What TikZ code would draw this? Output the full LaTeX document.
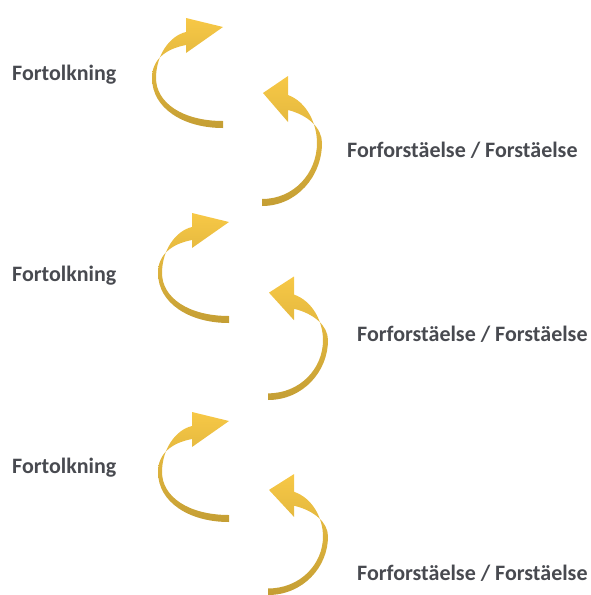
\documentclass[tikz,border=0pt]{standalone}
\usepackage{fontspec}
\setmainfont{Carlito}
\usetikzlibrary{positioning}

\definecolor{curlTop}{RGB}{247,200,70}
\definecolor{curlBot}{RGB}{196,158,52}
\definecolor{tagText}{RGB}{72,74,80}

\begin{document}
\begin{tikzpicture}[x=1pt, y=-1pt, line join=round,
  curl/.style={top color=curlTop, bottom color=curlBot, draw=none},
  tag/.style={anchor=base west, inner sep=0pt, font=\fontsize{22}{24}\selectfont\bfseries, text=tagText}]
  % Page frame (pixels of the reference, y downwards).
  \useasboundingbox (0,0) rectangle (590,595);

  % Ribbon that turns left: tail at the origin, arrowhead above it.
  \def\CurlLeftPath{%
    (0,0) .. controls (-40,0) and (-71,-20) .. (-71,-50)
    .. controls (-71,-68) and (-58,-79) .. (-37,-83)
    -- (-37,-75) -- (0,-101) -- (-37,-110) -- (-37,-96)
    .. controls (-54,-92) and (-67,-72) .. (-67,-50)
    .. controls (-67,-25) and (-40,-7) .. (0,-7) -- cycle%
  }
  % Ribbon that turns right: tail at the origin, arrowhead above it.
  \def\CurlRightPath{%
    (0,0) .. controls (35,0) and (60,-30) .. (60,-63)
    .. controls (60,-78) and (46,-91) .. (26,-96)
    -- (26,-84) -- (1,-113) -- (26,-130) -- (26,-111)
    .. controls (45,-104) and (55,-82) .. (55,-63)
    .. controls (55,-33) and (32,-7) .. (0,-7) -- cycle%
  }

  % Three turns of the circle: left tail, right tail, right yscale.
  \foreach \lx/\ly/\rx/\ry/\rs in {223/128/262/206/1, 229/323/268/400/0.95, 229/522/268/595/0.93} {
    \shade[curl, shift={(\lx,\ly)}] \CurlLeftPath;
    \shade[curl, shift={(\rx,\ry)}, yscale=\rs] \CurlRightPath;
  }

  % Labels.
  \foreach \n/\y in {1/80, 2/281, 3/473} {
    \node[tag] (fortolk\n) at (12,\y) {Fortolkning};
  }
  \foreach \n/\x/\y in {1/347/157, 2/357/341, 3/357/580} {
    \node[tag] (forst\n) at (\x,\y) {Forforstäelse / Forstäelse};
  }
\end{tikzpicture}
\end{document}
